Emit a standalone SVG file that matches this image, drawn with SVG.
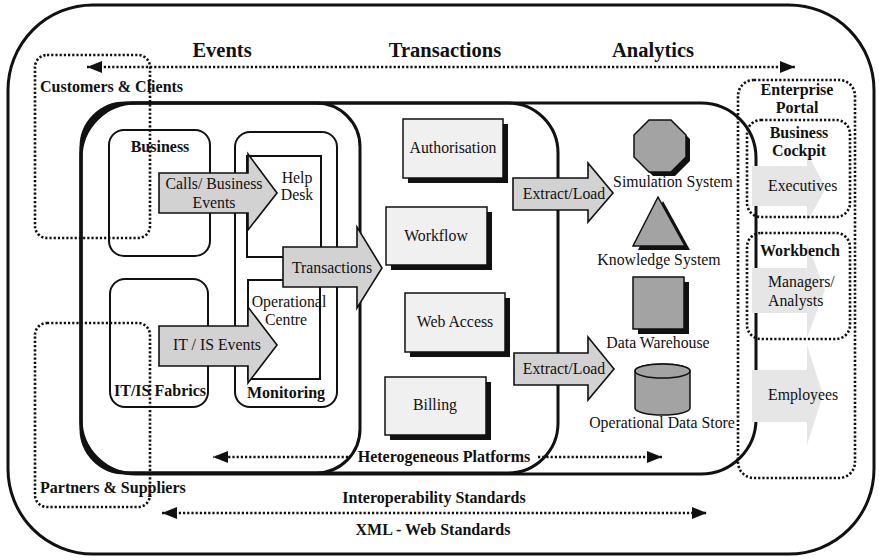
<svg xmlns="http://www.w3.org/2000/svg" width="879" height="560" viewBox="0 0 879 560" font-family="'Liberation Serif', 'Times New Roman', Times, 'DejaVu Serif', serif">
<style>
text{font-family:"Liberation Serif","Times New Roman",Times,"DejaVu Serif",serif;fill:#111;}
.b{font-weight:bold;font-size:16px;}
.r{font-size:15.8px;}
.h{font-weight:bold;font-size:20.5px;}
.m{text-anchor:middle;}
.layer{fill:none;stroke:#111;stroke-width:3;}
.box{fill:#fff;stroke:#111;stroke-width:2;}
.arr{fill:#d2d2d2;stroke:#111;stroke-width:1.6;stroke-linejoin:miter;}
.light{fill:#e6e6e6;stroke:none;}
.tb{fill:#f0f0f0;stroke:#111;stroke-width:1.5;}
.sh{fill:#111;stroke:none;}
.shape{fill:#a3a3a3;stroke:#111;stroke-width:1.5;}
.dot{fill:none;stroke:#111;stroke-width:2.6;stroke-dasharray:2.2 2;}
</style>
<defs>
<marker id="ah" viewBox="0 0 15 12" refX="15" refY="6" markerWidth="15" markerHeight="12" markerUnits="userSpaceOnUse" orient="auto-start-reverse">
<path d="M0,0 L15,6 L0,12 Z" fill="#111"/>
</marker>
</defs>

<rect id="outer" x="8" y="5" width="866" height="549" rx="85" class="layer"/>

<g id="layers">
<rect x="81" y="103" width="675" height="371" rx="55" class="layer"/>
<rect x="81" y="103" width="477" height="370" rx="50" class="layer"/>
<rect x="81" y="103" width="279" height="370" rx="44" class="layer"/>
</g>

<g id="business">
<rect x="109" y="130" width="101" height="126" rx="15" class="box"/>
</g>
<g id="itis-fabrics">
<rect x="110" y="279" width="98" height="128" rx="15" class="box"/>
</g>
<g id="monitoring">
<rect x="235" y="132" width="102" height="275" rx="15" class="box"/>
<rect x="247" y="156" width="74" height="101" class="box"/>
<rect x="248" y="280" width="72" height="99" class="box"/>
</g>

<g id="portal">
<polygon class="light" points="752,166 807,166 807,153 826,188 807,222 807,206 752,206"/>
<polygon class="light" points="752,268 807,268 807,243 825,290 807,338 807,313 752,313"/>
<polygon class="light" points="752,370 807,370 807,345 823,395 807,445 807,422 752,422"/>
</g>

<g id="flows">
<polygon id="calls" class="arr" points="159,173 248,173 248,154 277,193 248,230 248,213 159,213"/>
<polygon id="itis-events" class="arr" points="159,326 248,326 248,307 277,345 248,383 248,366 159,366"/>
<polygon id="transactions" class="arr" points="283,247 357,247 357,227 382,268 357,308 357,287 283,287"/>
<polygon id="extract1" class="arr" points="513,178 588,178 588,163 613,193 588,222 588,210 513,210"/>
<polygon id="extract2" class="arr" points="514,353 588,353 588,337 614,369 588,400 588,385 514,385"/>
</g>

<g id="authorisation">
<rect x="408" y="124" width="100" height="59" class="sh"/>
<rect x="403" y="119" width="100" height="59" class="tb"/>
</g>
<g id="workflow">
<rect x="391" y="212" width="101" height="58" class="sh"/>
<rect x="386" y="207" width="101" height="58" class="tb"/>
</g>
<g id="webaccess">
<rect x="410" y="298" width="100" height="59" class="sh"/>
<rect x="405" y="293" width="100" height="59" class="tb"/>
</g>
<g id="billing">
<rect x="390" y="382" width="101" height="58" class="sh"/>
<rect x="385" y="377" width="101" height="58" class="tb"/>
</g>

<g id="simulation">
<polygon class="sh" points="653,124 675,124 690,139 690,161 675,176 653,176 638,161 638,139"/>
<polygon class="shape" points="649,120 671,120 686,135 686,157 671,172 649,172 634,157 634,135"/>
</g>
<g id="knowledge">
<polygon class="sh" points="663,201 690,250 638,250"/>
<polygon class="shape" points="658,197 685,246 633,246"/>
</g>
<g id="warehouse">
<rect x="638" y="282" width="51" height="52" class="sh"/>
<rect x="633" y="277" width="51" height="52" class="shape"/>
</g>
<g id="ods">
<path class="shape" d="M635,371 V408 A27.5,7 0 0 0 690,408 V371 A27.5,7 0 0 0 635,371 Z"/>
<ellipse cx="662.5" cy="371" rx="27.5" ry="7" class="shape"/>
</g>

<g id="groups">
<rect x="35" y="55" width="115" height="183" rx="12" class="dot"/>
<rect x="35" y="323" width="115" height="184" rx="12" class="dot"/>
<rect x="738" y="80" width="117" height="398" rx="16" class="dot"/>
<rect x="747" y="120" width="103" height="97" rx="14" class="dot"/>
<rect x="747" y="233" width="103" height="106" rx="14" class="dot"/>
</g>

<g id="connectors">
<path class="dot" d="M87,67 H795" marker-start="url(#ah)" marker-end="url(#ah)"/>
<path class="dot" d="M348,457 H213" marker-end="url(#ah)"/>
<path class="dot" d="M538,457 H662" marker-end="url(#ah)"/>
<path class="dot" d="M162,513 H707" marker-start="url(#ah)" marker-end="url(#ah)"/>
</g>

<g id="labels">
<text class="h m" x="222" y="57">Events</text>
<text class="h m" x="445" y="57">Transactions</text>
<text class="h m" x="653" y="57">Analytics</text>
<text class="b" x="40" y="92">Customers &amp; Clients</text>
<text class="b" x="40" y="493">Partners &amp; Suppliers</text>
<text class="b m" x="160" y="152">Business</text>
<text class="b m" x="160" y="396">IT/IS Fabrics</text>
<text class="b m" x="286" y="398">Monitoring</text>
<text class="r m" x="297" y="183">Help</text>
<text class="r m" x="297" y="200">Desk</text>
<text class="r m" x="289" y="307">Operational</text>
<text class="r m" x="286" y="325">Centre</text>
<text class="r m" x="214" y="189">Calls/ Business</text>
<text class="r m" x="214" y="208">Events</text>
<text class="r m" x="217" y="350">IT / IS Events</text>
<text class="r m" x="332" y="273">Transactions</text>
<text class="r m" x="453" y="153">Authorisation</text>
<text class="r m" x="436" y="241">Workflow</text>
<text class="r m" x="455" y="327">Web Access</text>
<text class="r m" x="435" y="410">Billing</text>
<text class="r m" x="564" y="199">Extract/Load</text>
<text class="r m" x="564" y="374">Extract/Load</text>
<text class="r m" x="673" y="187">Simulation System</text>
<text class="r m" x="659" y="265">Knowledge System</text>
<text class="r m" x="658" y="348">Data Warehouse</text>
<text class="r m" x="662" y="428">Operational Data Store</text>
<text class="b m" x="797" y="95">Enterprise</text>
<text class="b m" x="797" y="113">Portal</text>
<text class="b m" x="799" y="138">Business</text>
<text class="b m" x="799" y="156">Cockpit</text>
<text class="r" x="768" y="191">Executives</text>
<text class="b m" x="800" y="256">Workbench</text>
<text class="r" x="768" y="287">Managers/</text>
<text class="r" x="768" y="306">Analysts</text>
<text class="r" x="768" y="400">Employees</text>
<text class="b m" x="444" y="462">Heterogeneous Platforms</text>
<text class="b m" x="434" y="503">Interoperability Standards</text>
<text class="b m" x="433" y="535">XML - Web Standards</text>
</g>
</svg>
